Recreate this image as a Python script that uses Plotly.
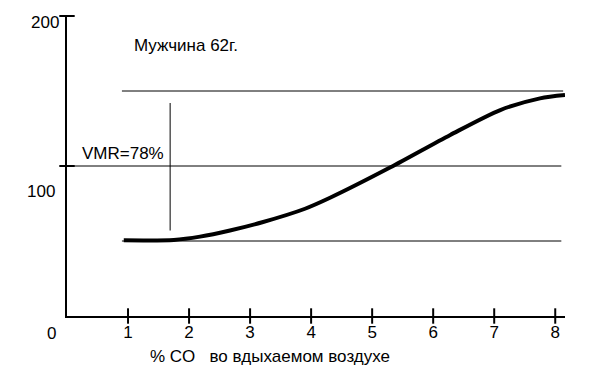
import plotly.graph_objects as go

# curve data: % CO in inspired air vs value
co_pct = [0.93, 1.75, 2.18, 2.67, 3.20, 3.90, 4.31, 5.30, 6.28, 7.10, 7.75, 8.16]
response = [50.5, 50.7, 52.9, 57.0, 62.5, 71.5, 78.8, 99.1, 120.7, 137.3, 145.1, 147.3]

# reference horizontal levels
level_values = [150, 100, 50]
level_x_start = [0.9, 0.0, 0.9]
level_x_end = [8.13, 8.1, 8.1]

# vertical marker
vmark_x = 1.69
vmark_y = [57, 142]

x_ticks = [1, 2, 3, 4, 5, 6, 7, 8]
y_ticks = [100, 200]
y_tick_labels = ["0", "100", "200"]
y_tick_label_vals = [0, 100, 200]

FONT = "Liberation Sans, Arial, sans-serif"
FS = 17

fig = go.Figure()

for yv, xs, xe in zip(level_values, level_x_start, level_x_end):
    fig.add_trace(go.Scatter(x=[xs, xe], y=[yv, yv], mode="lines",
                             line=dict(color="black", width=1), showlegend=False,
                             hoverinfo="skip"))

fig.add_trace(go.Scatter(x=[vmark_x, vmark_x], y=vmark_y, mode="lines",
                         line=dict(color="black", width=1), showlegend=False))

fig.add_trace(go.Scatter(x=co_pct, y=response, mode="lines",
                         line=dict(color="black", width=4, shape="spline", smoothing=0.8),
                         showlegend=False))

# crossing tick marks
fig.add_trace(go.Scatter(x=x_ticks, y=[0] * len(x_ticks), mode="markers",
                         marker=dict(symbol="line-ns", size=11,
                                     line=dict(color="black", width=2)),
                         cliponaxis=False, showlegend=False))
fig.add_trace(go.Scatter(x=[0] * len(y_ticks), y=y_ticks, mode="markers",
                         marker=dict(symbol="line-ew", size=11,
                                     line=dict(color="black", width=2)),
                         cliponaxis=False, showlegend=False))

fig.update_xaxes(range=[0, 8.16], showline=True, linecolor="black", linewidth=2,
                 showgrid=False, zeroline=False, tickmode="array", tickvals=x_ticks,
                 ticktext=[str(t) for t in x_ticks], ticks="",
                 tickfont=dict(family=FONT, size=FS, color="black"))
fig.update_yaxes(range=[0, 200], showline=True, linecolor="black", linewidth=2,
                 showgrid=False, zeroline=False, showticklabels=False, ticks="")

# y tick labels (offset as in the original)
yshifts = [-17, -25, -6]
xshifts = [-9, -10, -6]
for lab, v, ys, xsft in zip(y_tick_labels, y_tick_label_vals, yshifts, xshifts):
    fig.add_annotation(x=0, y=v, xref="x", yref="y", text=lab, showarrow=False,
                       xanchor="right", yanchor="middle", xshift=xsft, yshift=ys,
                       font=dict(family=FONT, size=FS, color="black"))

fig.add_annotation(x=1.06, y=180.5, xref="x", yref="y", text="Мужчина 62г.",
                   showarrow=False, xanchor="left", yanchor="middle",
                   font=dict(family=FONT, size=FS, color="black"))
fig.add_annotation(x=0.22, y=108.5, xref="x", yref="y", text="VMR=78%",
                   showarrow=False, xanchor="left", yanchor="middle",
                   font=dict(family=FONT, size=FS, color="black"))
fig.add_annotation(x=1.33, y=-0.135, xref="x", yref="paper",
                   text="%\u00a0CO\u00a0\u00a0\u00a0во вдыхаемом воздухе",
                   showarrow=False, xanchor="left", yanchor="middle",
                   font=dict(family=FONT, size=FS, color="black"))

fig.update_layout(width=600, height=379, plot_bgcolor="white", paper_bgcolor="white",
                  margin=dict(l=59, r=43, t=8, b=71), showlegend=False)

fig.write_html("out.html")
